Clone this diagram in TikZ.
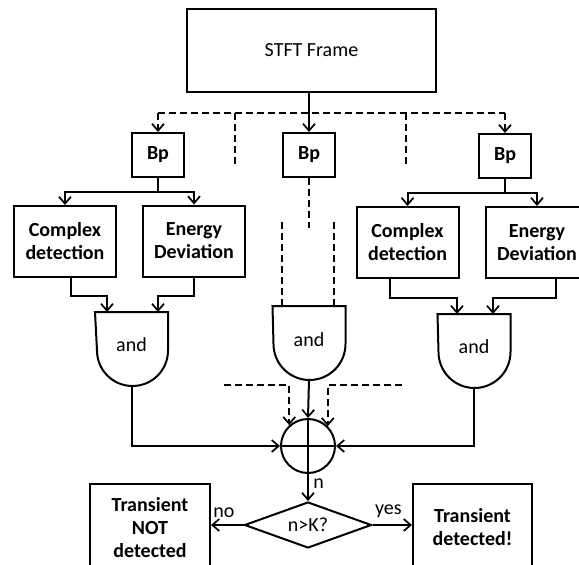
\documentclass[tikz,border=0pt]{standalone}
\usepackage{fontspec}
\setmainfont{Carlito}
\usetikzlibrary{arrows.meta,shapes.geometric}
\newcommand{\gateshape}[2]{\draw (#1.north west) -- (#1.north east) -- ([yshift=#2]#1.south east) arc[start angle=0,end angle=-180,radius=#2] -- cycle;}
\begin{document}
\begin{tikzpicture}[x=1pt,y=1pt,
  line width=2pt,
  every node/.style={font=\fontsize{20}{23}\selectfont},
  blk/.style={draw, rectangle, inner sep=0pt, align=center, font=\bfseries\fontsize{20}{23}\selectfont},
  bpbox/.style={blk, minimum width=52pt, minimum height=44pt},
  detbox/.style={blk, minimum width=102pt, minimum height=71pt},
  gatebox/.style={rectangle, inner sep=0pt, minimum width=71pt, minimum height=72pt},
  arr/.style={-{Straight Barb[length=7pt,width=12pt,line width=1.7pt]}},
  dsh/.style={dash pattern=on 7pt off 4pt},
]
\useasboundingbox (0,0) rectangle (579,-565);
\fill[white] (0,0) rectangle (579,-565);
\clip (0,0) rectangle (579,-565);

% top
\node[draw, minimum width=249pt, minimum height=83pt, inner sep=0pt] (stft) at (311.5,-50.5) {STFT Frame};
\node[bpbox] (bpL) at (158,-155) {Bp};
\node[bpbox] (bpM) at (309,-155) {Bp};
\node[bpbox] (bpR) at (505,-156) {Bp};

% detectors
\node[detbox] (cdL) at (65,-241.5) {Complex\\detection};
\node[detbox] (edL) at (194,-241) {Energy\\Deviation};
\node[detbox] (cdR) at (407.5,-242.5) {Complex\\detection};
\node[detbox] (edR) at (537,-242.5) {Energy\\Deviation};

% gates
\node[gatebox] (gL) at (131.5,-349) {};
\node[gatebox] (gM) at (309,-343) {};
\node[gatebox] (gR) at (474,-351) {};
\gateshape{gL}{35.5pt}
\gateshape{gM}{36pt}
\gateshape{gR}{36pt}
\node (aL) at (131.5,-345) {and};
\node (aM) at (309,-340) {and};
\node (aR) at (474,-347) {and};

% summation
\node[draw, circle, minimum size=54pt, inner sep=0pt] (sum) at (308,-446) {};
\draw (sum.north) -- (sum.south);
\draw (sum.west) -- (sum.east);

% decision
\node[draw, diamond, aspect=2.76, minimum width=127pt, minimum height=46pt, inner sep=0pt] (dec) at (308,-525) {n>K?};
\node[blk, minimum width=120pt, minimum height=88pt, anchor=north] (tn) at (150,-483) {Transient\\NOT\\detected};
\node[blk, minimum width=119pt, minimum height=87pt, anchor=north] (td) at (472.5,-483) {Transient\\detected!};

% coordinates for free ends
\coordinate (hy) at (0,-113);
\coordinate (s1) at (235,-165);
\coordinate (s2) at (406,-165);
\coordinate (m0) at (309,-228);
\coordinate (jL) at (158,-192);
\coordinate (jR) at (505,-193);
\coordinate (dA) at (224,-385);
\coordinate (dB) at (402,-385);

% top connectors
\draw[arr] (bpM.north |- stft.south) -- (bpM.north);
\draw[dsh] (bpL.north |- hy) -- (bpR.north |- hy);
\draw[dsh,arr] (bpL.north |- hy) -- (bpL.north);
\draw[dsh,arr] (bpR.north |- hy) -- (bpR.north);
\draw[dsh] (s1 |- hy) -- (s1);
\draw[dsh] (s2 |- hy) -- (s2);

% branches
\draw (bpL.south) -- (jL);
\draw[arr] (jL) -| (cdL.north);
\draw[arr] (jL) -| (edL.north);
\draw (bpR.south) -- (jR);
\draw[arr] (jR) -| (cdR.north);
\draw[arr] (jR) -| (edR.north);

% detectors to gates
\draw[arr] ([xshift=6pt]cdL.south) -- ++(0,-18) -| ([xshift=-24.5pt]gL.north);
\draw[arr] (edL.south) -- ++(0,-18.5) -| ([xshift=26.5pt]gL.north);
\draw[arr] ([xshift=-17.5pt]cdR.south) -- ++(0,-19) -| ([xshift=-17pt]gR.north);
\draw[arr] ([xshift=19pt]edR.south) -- ++(0,-19) -| ([xshift=19pt]gR.north);

% middle dashed
\draw[dsh] (bpM.south) -- (m0);
\draw[dsh] ([xshift=-27pt]gM.north) -- ++(0,85);
\draw[dsh] ([xshift=25pt]gM.north) -- ++(0,85);

% gates to sum
\draw[arr] (gM.south) -- (sum.north);
\draw[arr] ([yshift=0.5pt]gL.south) |- (sum.west);
\draw[arr] ([yshift=0.5pt]gR.south) |- (sum.east);
\draw[dsh,arr] (dA) -| (sum.132);
\draw[dsh,arr] (dB) -| (sum.45);

% decision
\draw[arr] (sum.south) -- node[pos=0.35, right=1pt] {n} (dec.north);
\draw[arr] (dec.west) -- node[pos=0.6, above=3pt] {no} (dec.west -| tn.east);
\draw[arr] (dec.east) -- node[pos=0.4, above=3pt] {yes} (dec.east -| td.west);
\end{tikzpicture}
\end{document}
